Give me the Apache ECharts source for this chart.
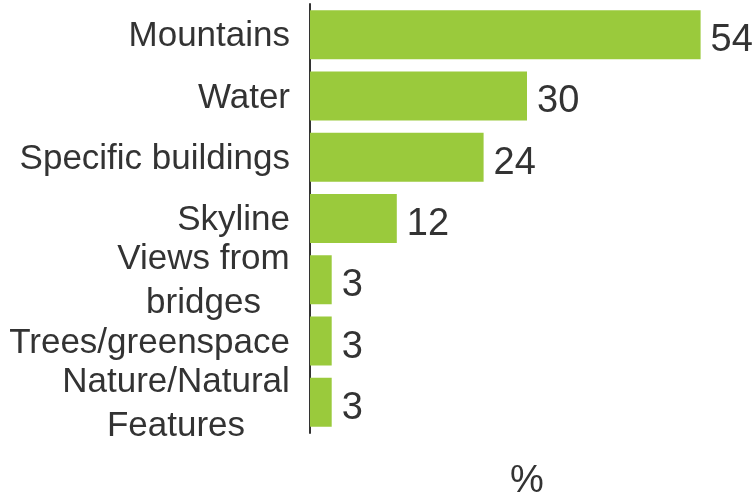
<!DOCTYPE html>
<html>
<head>
<meta charset="utf-8">
<script src="https://cdn.jsdelivr.net/npm/echarts@6/dist/echarts.min.js"></script>
<style>html,body{margin:0;padding:0;background:#fff}#c{width:756px;height:499px}</style>
</head>
<body>
<div id="c"></div>
<script>
const categories = ["Mountains", "Water", "Specific buildings", "Skyline", "Views from\nbridges", "Trees/greenspace", "Nature/Natural\nFeatures"];
const values = [54, 30, 24, 12, 3, 3, 3];
const axisName = "%";

const FONT = '"Liberation Sans", Arial, sans-serif';

// center multi-line labels within their right-aligned block
const cv = document.createElement('canvas').getContext('2d');
cv.font = '35px "Liberation Sans"';
const rich = {};
categories.forEach((c, i) => {
  if (c.indexOf('\n') >= 0) {
    const w = Math.ceil(Math.max(...c.split('\n').map(l => cv.measureText(l).width)));
    rich['m' + i] = {width: w, align: 'center', fontSize: 35, fontFamily: FONT, color: '#333', lineHeight: 44};
  }
});

const chart = echarts.init(document.getElementById('c'), null, {renderer: 'canvas'});
chart.setOption({
  animation: false,
  grid: {left: 310, right: 12, top: 4, bottom: 66, outerBoundsMode: 'none', containLabel: false},
  xAxis: {
    type: 'value', min: 0, max: 60,
    name: axisName, nameLocation: 'middle', nameGap: 30,
    nameTextStyle: {fontSize: 38, color: '#333', fontFamily: FONT},
    axisLine: {show: false}, axisTick: {show: false}, axisLabel: {show: false}, splitLine: {show: false}
  },
  yAxis: {
    type: 'category', data: categories, inverse: true,
    axisLine: {show: true, lineStyle: {color: '#333', width: 2}},
    axisTick: {show: false},
    axisLabel: {interval: 0, hideOverlap: false, fontSize: 35, color: '#333', fontFamily: FONT, margin: 20, lineHeight: 44, align: 'right',
      padding: [4, 0, 0, 0],
      rich: rich,
      formatter: v => {
        if (v.indexOf('\n') < 0) return v;
        const idx = categories.indexOf(v);
        return v.split('\n').map(l => '{m' + idx + '|' + l + '}').join('\n');
      }}
  },
  series: [{
    type: 'bar', data: values, barCategoryGap: '20%',
    itemStyle: {color: '#9ACA3C'},
    label: {show: true, position: 'right', distance: 10, offset: [0, 6], fontSize: 38, color: '#333', fontFamily: FONT}
  }]
});
</script>
</body>
</html>
